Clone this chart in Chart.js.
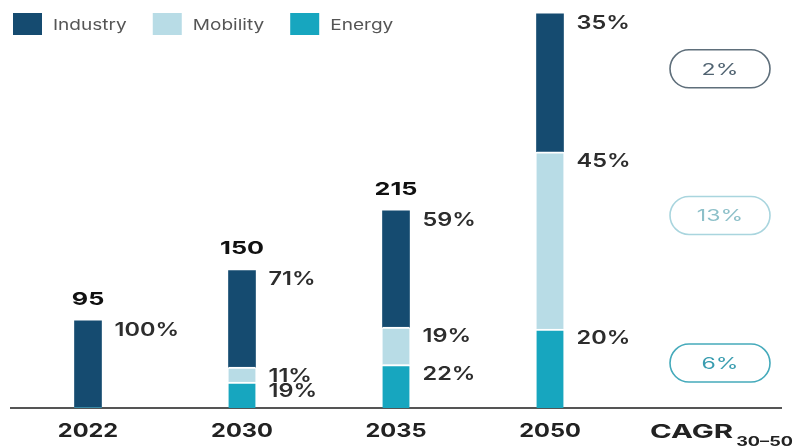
<!DOCTYPE html>
<html>
<head>
<meta charset="utf-8">
<script src="https://cdn.jsdelivr.net/npm/chart.js@4.4.0/dist/chart.umd.min.js"></script>
<style>
  html, body { margin: 0; padding: 0; background: #fff; }
  #wrap { width: 794px; height: 447px; position: relative; }
</style>
</head>
<body>
<div id="wrap"><canvas id="c"></canvas></div>
<script>
// Demand by segment, stacked per year
const years = ['2022', '2030', '2035', '2050'];
const categories = [...years, 'CAGR'];
const totals = [95, 150, 215, 430];
const industryShare = [100, 71, 59, 35];
const mobilityShare = [0, 11, 19, 45];
const energyShare = [0, 19, 22, 20];
const showTotal = [true, true, true, false];
// growth 2030-2050 per segment: industry, mobility, energy
const cagrLabels = ['2%', '13%', '6%'];

const colors = { industry: '#154b70', mobility: '#b8dce6', energy: '#17a6bf' };
const FONT = 'Inter, "Open Sans", sans-serif';

// split each total by its shares (normalised so the stack height equals the total)
function segment(share) {
  return years.map((_, i) => {
    const sum = industryShare[i] + mobilityShare[i] + energyShare[i];
    return share[i] ? totals[i] * share[i] / sum : 0;
  });
}

const datasets = [
  { label: 'Energy', data: segment(energyShare), shares: energyShare, backgroundColor: colors.energy },
  { label: 'Mobility', data: segment(mobilityShare), shares: mobilityShare, backgroundColor: colors.mobility },
  { label: 'Industry', data: segment(industryShare), shares: industryShare, backgroundColor: colors.industry }
].map(d => ({
  ...d,
  borderColor: '#ffffff',
  borderSkipped: false,
  // thin white gap on top of a segment when another sits above it
  borderWidth: ctx => {
    const i = ctx.dataIndex;
    const above = ctx.chart.data.datasets.slice(ctx.datasetIndex + 1).some(o => o.data[i] > 0);
    return { top: above ? 2 : 0, bottom: 0, left: 0, right: 0 };
  },
  barThickness: 27
}));

const legendItems = [
  { text: 'Industry', color: colors.industry },
  { text: 'Mobility', color: colors.mobility },
  { text: 'Energy', color: colors.energy }
];

// the typeface is a wide geometric sans; stretch glyphs horizontally
function wideText(ctx, text, x, y, sx, align) {
  ctx.save();
  ctx.translate(x, y);
  ctx.scale(sx, 1);
  ctx.textAlign = align;
  ctx.fillText(text, 0, 0);
  ctx.restore();
}

const overlay = {
  id: 'overlay',
  afterDatasetsDraw(chart, args, opts) {
    const { ctx, scales: { x, y } } = chart;
    ctx.save();
    ctx.textBaseline = 'alphabetic';

    // share labels beside each segment
    ctx.font = '600 18.5px ' + FONT;
    ctx.fillStyle = '#2d2d2d';
    chart.data.datasets.forEach((ds, di) => {
      chart.getDatasetMeta(di).data.forEach((bar, i) => {
        if (!ds.data[i]) return;
        wideText(ctx, ds.shares[i] + '%', bar.x + bar.width / 2 + 13, bar.y + 15, 1.27, 'left');
      });
    });

    // totals above the stacks
    ctx.font = '700 18px ' + FONT;
    ctx.fillStyle = '#111';
    years.forEach((_, i) => {
      if (!showTotal[i]) return;
      wideText(ctx, String(totals[i]), x.getPixelForValue(i), y.getPixelForValue(totals[i]) - 16, 1.4, 'center');
    });

    // category labels under the axis
    ctx.font = '700 19px ' + FONT;
    ctx.fillStyle = '#222';
    years.forEach((label, i) => {
      wideText(ctx, label, x.getPixelForValue(i), 437, 1.24, 'center');
    });

    // CAGR label with subscript
    const xc = x.getPixelForValue(categories.length - 1);
    ctx.font = '700 19px ' + FONT;
    const main = categories[categories.length - 1];
    const startX = xc - 54;
    wideText(ctx, main, startX, 438, 1.55, 'left');
    const mw = ctx.measureText(main).width * 1.55;
    ctx.font = '700 12.5px ' + FONT;
    wideText(ctx, '30\u201350', startX + mw + 3, 446, 1.45, 'left');

    // legend
    ctx.font = '400 15px ' + FONT;
    ctx.textBaseline = 'middle';
    let lx = 13;
    legendItems.forEach(item => {
      ctx.fillStyle = item.color;
      ctx.fillRect(lx, 13, 29, 22);
      ctx.fillStyle = '#555';
      wideText(ctx, item.text, lx + 40, 25, 1.27, 'left');
      lx += 40 + ctx.measureText(item.text).width * 1.27 + 26;
    });

    // CAGR pills
    const cx = xc + 16;
    opts.pills.forEach((p, k) => {
      const cy = y.getPixelForValue(p.at);
      const w = 100, h = 38, r = 19;
      ctx.beginPath();
      ctx.roundRect(cx - w / 2, cy - h / 2, w, h, r);
      ctx.lineWidth = 1.6;
      ctx.strokeStyle = p.border;
      ctx.stroke();
      ctx.font = '400 16.5px ' + FONT;
      ctx.fillStyle = p.text;
      ctx.textBaseline = 'middle';
      wideText(ctx, cagrLabels[k], cx, cy + 1, 1.4, 'center');
    });

    ctx.restore();
  }
};

new Chart(document.getElementById('c'), {
  type: 'bar',
  data: { labels: categories, datasets },
  plugins: [overlay],
  options: {
    responsive: true,
    maintainAspectRatio: false,
    animation: false,
    layout: { padding: { top: 0, left: 11, right: 13, bottom: 0 } },
    plugins: {
      legend: { display: false },
      tooltip: { enabled: false },
      overlay: {
        pills: [
          { at: 370, border: '#5f6f7b', text: '#4f6270' },
          { at: 210, border: '#a9d5de', text: '#8dc0c9' },
          { at: 49, border: '#45aabb', text: '#3a9db0' }
        ]
      }
    },
    scales: {
      x: {
        stacked: true,
        grid: { display: false, drawTicks: false },
        border: { display: true, color: '#555', width: 2 },
        ticks: { display: false },
        afterFit: s => { s.height = 39; }
      },
      y: {
        stacked: true,
        display: false,
        min: 0,
        max: 445
      }
    }
  }
});
</script>
</body>
</html>
